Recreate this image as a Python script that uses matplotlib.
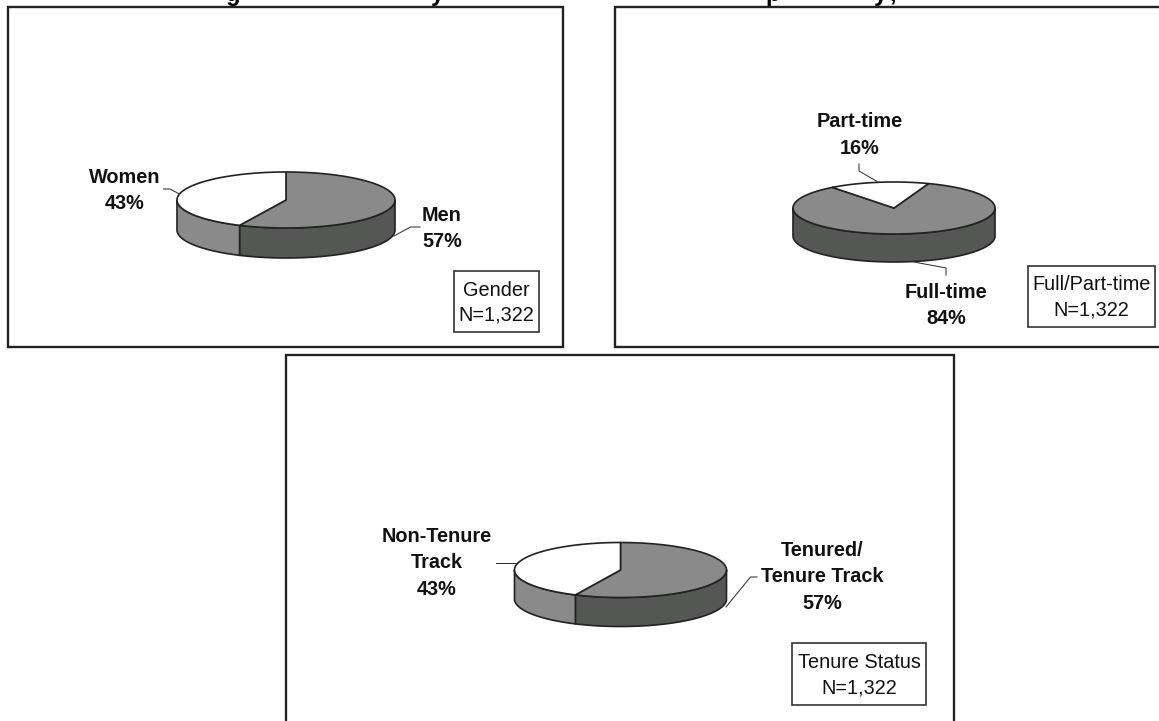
import matplotlib
matplotlib.use("Agg")
import matplotlib.pyplot as plt
import numpy as np
from matplotlib.patches import Polygon, Rectangle

plt.rcParams["font.family"] = ["Liberation Sans", "DejaVu Sans"]

# Data
gender_labels = ["Men\n57%", "Women\n43%"]
gender_values = [57, 43]
status_labels = ["Full-time\n84%", "Part-time\n16%"]
status_values = [84, 16]
tenure_labels = ["Tenured/\nTenure Track\n57%", "Non-Tenure\nTrack\n43%"]
tenure_values = [57, 43]
legend_gender = "Gender\nN=1,322"
legend_status = "Full/Part-time\nN=1,322"
legend_tenure = "Tenure Status\nN=1,322"

TOP_GREY = "#8a8a8a"
SIDE_DARK = "#555755"
EDGE = "#222222"
FONT_SIZE = 14.3


def draw_pie(ax, values, start, top_colors, side_colors, cx, cy, rx, ry, depth):
    # Values run clockwise from the start angle, in degrees
    edges = start - np.cumsum([0] + list(values)) / np.sum(values) * 360.0

    def rim(t, drop=0.0):
        rad = np.radians(t)
        return np.c_[cx + rx * np.cos(rad), cy - ry * np.sin(rad) + drop]

    # Side wall, only the front half of the rim shows
    for i in range(len(values)):
        for shift in (0, 360):
            hi = min(edges[i] + shift, 0.0)
            lo = max(edges[i + 1] + shift, -180.0)
            if hi <= lo:
                continue
            t = np.linspace(hi, lo, 80)
            band = np.vstack([rim(t), rim(t[::-1], depth)])
            ax.add_patch(Polygon(band, closed=True, fc=side_colors[i], ec=EDGE, lw=1.2, joinstyle="round"))

    # Top face
    for i in range(len(values)):
        t = np.linspace(edges[i], edges[i + 1], 160)
        face = np.vstack([[cx, cy], rim(t)])
        ax.add_patch(Polygon(face, closed=True, fc=top_colors[i], ec=EDGE, lw=1.2, joinstyle="round"))


def draw_legend(ax, text, x0, y0, x1, y1):
    ax.add_patch(Rectangle((x0, y0), x1 - x0, y1 - y0, fc="white", ec="#333333", lw=1.2, zorder=3))
    ax.text((x0 + x1) / 2, (y0 + y1) / 2 + 1, text, ha="center", va="center", fontsize=FONT_SIZE,
            linespacing=1.4, color="#111111", zorder=4)


def label(ax, text, x, y):
    ax.text(x, y + 1.5, text, ha="center", va="center", fontsize=FONT_SIZE, fontweight="bold",
            linespacing=1.47, color="#111111")


def leader(ax, xs, ys):
    ax.plot(xs, ys, color="#333333", lw=0.75, solid_joinstyle="miter")


fig = plt.figure(figsize=(11.59, 7.21), dpi=100)
ax = fig.add_axes([0, 0, 1, 1])
ax.set_xlim(0, 1159)
ax.set_ylim(721, 0)
ax.axis("off")

# Panel frames, the right one runs off the page
for x0, y0, x1, y1 in [(8, 7, 563, 347), (615, 7, 1175, 347), (286, 355, 954, 740)]:
    ax.add_patch(Rectangle((x0, y0), x1 - x0, y1 - y0, fc="white", ec="#222222", lw=1.7, zorder=0))

# Only the descenders of the titles are left at the top edge
for ch, x in [("g", 233), ("y", 437), ("p", 773), ("y", 880), (",", 893)]:
    ax.text(x, 0.5, ch, ha="center", va="baseline", fontsize=17, fontweight="bold", color="black")

# Gender
draw_pie(ax, gender_values, 90, [TOP_GREY, "white"], [SIDE_DARK, TOP_GREY], 286, 200, 109, 28, 30)
label(ax, gender_labels[1], 125, 189)
label(ax, gender_labels[0], 442, 227)
leader(ax, [163.5, 170, 179.5], [189, 189, 194])
leader(ax, [420, 410.5, 394], [227, 227, 236])
draw_legend(ax, legend_gender, 454, 271, 539, 332)

# Full/part-time
draw_pie(ax, status_values, 70, [TOP_GREY, "white"], [SIDE_DARK, TOP_GREY], 894, 208, 101, 26, 28)
label(ax, status_labels[1], 859.5, 133.5)
label(ax, status_labels[0], 946, 304)
leader(ax, [859, 859, 878], [164, 171, 182])
leader(ax, [946, 946, 914], [275, 268, 262])
draw_legend(ax, legend_status, 1028, 266, 1155, 327)

# Tenure
draw_pie(ax, tenure_values, 90, [TOP_GREY, "white"], [SIDE_DARK, TOP_GREY], 620.5, 570, 106, 27.5, 29)
label(ax, tenure_labels[1], 437, 561.5)
label(ax, tenure_labels[0], 822, 575.5)
leader(ax, [495.5, 516], [563, 563])
leader(ax, [757, 750.5, 726], [577, 577, 607])
draw_legend(ax, legend_tenure, 792, 643, 926, 705)

fig.savefig("out.png", dpi=100)
plt.close(fig)
